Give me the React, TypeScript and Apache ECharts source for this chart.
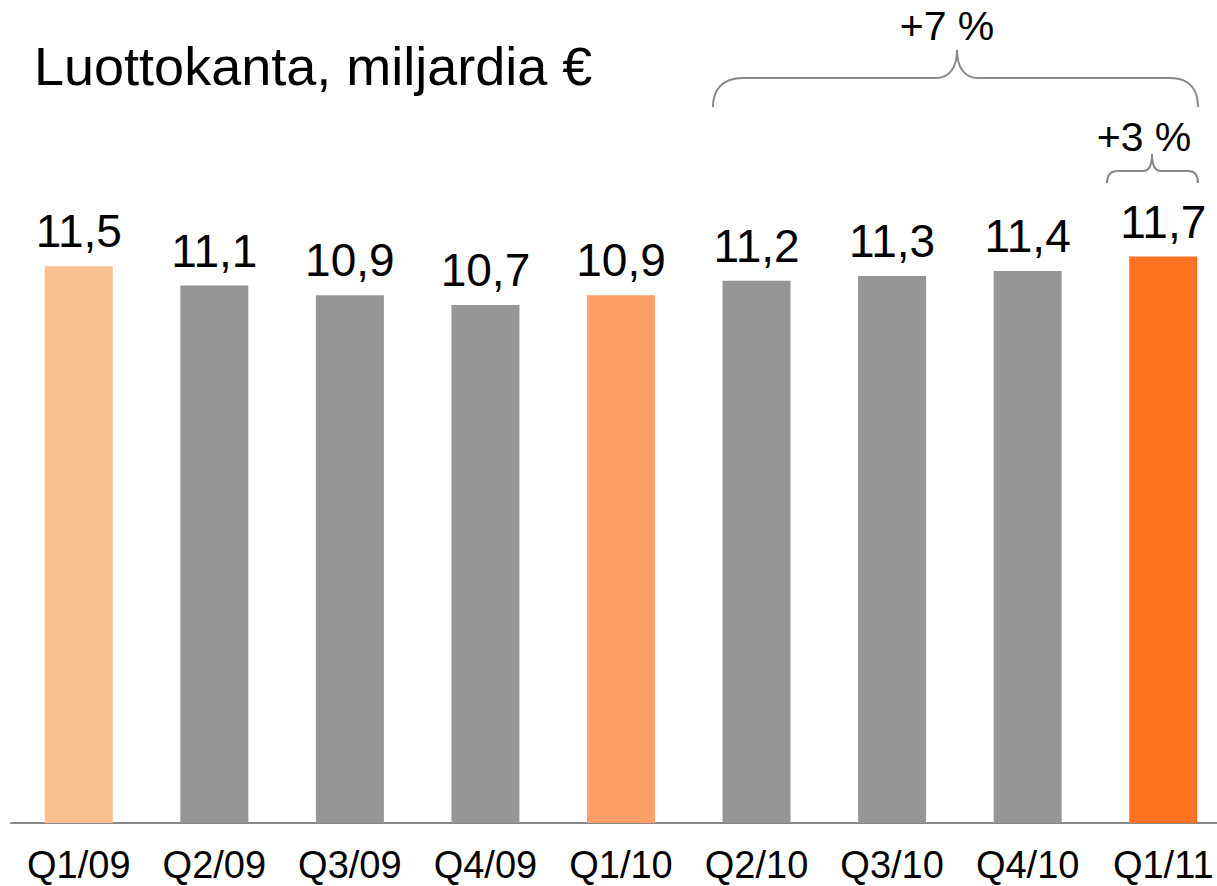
import React, { useEffect, useRef } from "react";
import * as echarts from "echarts";

const categories = ["Q1/09", "Q2/09", "Q3/09", "Q4/09", "Q1/10", "Q2/10", "Q3/10", "Q4/10", "Q1/11"];
const values = [11.5, 11.1, 10.9, 10.7, 10.9, 11.2, 11.3, 11.4, 11.7];
const barColors = ["#F9C191", "#969696", "#969696", "#969696", "#FDA068", "#969696", "#969696", "#969696", "#FF7322"];
const titleText = "Luottokanta, miljardia €";
const changeLabels = ["+7 %", "+3 %"];

const bigBrace =
  "M713,107 C713,90 722,78 743,78 L936,78 C949,78 957,68 957,50 C957,68 965,78 978,78 L1170,78 C1190,78 1198,90 1198,107";
const smallBrace =
  "M1107,183 C1107,175 1110,171 1118,171 L1143,171 C1149,171 1152,166 1152,154 C1152,166 1155,171 1161,171 L1188,171 C1195,171 1198,175 1198,183";

let registered = false;
function registerShapes() {
  if (registered) return;
  echarts.graphic.registerShape("bigBrace", echarts.graphic.extendPath(bigBrace, {}));
  echarts.graphic.registerShape("smallBrace", echarts.graphic.extendPath(smallBrace, {}));
  registered = true;
}

export default function App() {
  const ref = useRef<HTMLDivElement>(null);
  useEffect(() => {
    if (!ref.current) return;
    registerShapes();
    const chart = echarts.init(ref.current, undefined, { renderer: "svg" });
    const font = "Liberation Sans, Arial, sans-serif";
    chart.setOption({
      animation: false,
      backgroundColor: "#ffffff",
      grid: { left: 11, right: 9, top: 242, bottom: 63, containLabel: false },
      xAxis: {
        type: "category",
        data: categories,
        axisLine: { show: true, lineStyle: { color: "#888888", width: 2 } },
        axisTick: { show: false },
        axisLabel: {
          color: "#000000",
          fontSize: 38,
          lineHeight: 30,
          fontFamily: font,
          margin: 27,
          interval: 0,
        },
      },
      yAxis: {
        type: "value",
        min: 0,
        max: 12,
        show: false,
        splitLine: { show: false },
      },
      series: [
        {
          type: "bar",
          barWidth: 68,
          data: values.map((v, i) => ({ value: v, itemStyle: { color: barColors[i] } })),
          label: {
            show: true,
            position: "top",
            distance: 12,
            color: "#000000",
            fontSize: 46,
            fontFamily: font,
            formatter: (p: any) => String(p.value.toFixed(1)).replace(".", ","),
          },
        },
      ],
      graphic: [
        {
          type: "text",
          left: 34,
          top: 39,
          style: { text: titleText, fontSize: 54, fontFamily: font, fill: "#000000" },
        },
        {
          type: "bigBrace",
          x: 0,
          y: 0,
          style: { fill: "none", stroke: "#888888", lineWidth: 2 },
        },
        {
          type: "smallBrace",
          x: 0,
          y: 0,
          style: { fill: "none", stroke: "#888888", lineWidth: 2 },
        },
        {
          type: "text",
          x: 947,
          y: 26,
          style: {
            text: changeLabels[0],
            fontSize: 41,
            fontFamily: font,
            fill: "#000000",
            align: "center",
            verticalAlign: "middle",
          },
        },
        {
          type: "text",
          x: 1144,
          y: 137,
          style: {
            text: changeLabels[1],
            fontSize: 41,
            fontFamily: font,
            fill: "#000000",
            align: "center",
            verticalAlign: "middle",
          },
        },
      ],
    });
    return () => chart.dispose();
  }, []);
  return (
    <div style={{ position: "fixed", left: 0, top: 0, width: 1217, height: 886, overflow: "hidden", background: "#fff" }}>
      <div ref={ref} style={{ width: 1240, height: 886 }} />
    </div>
  );
}
